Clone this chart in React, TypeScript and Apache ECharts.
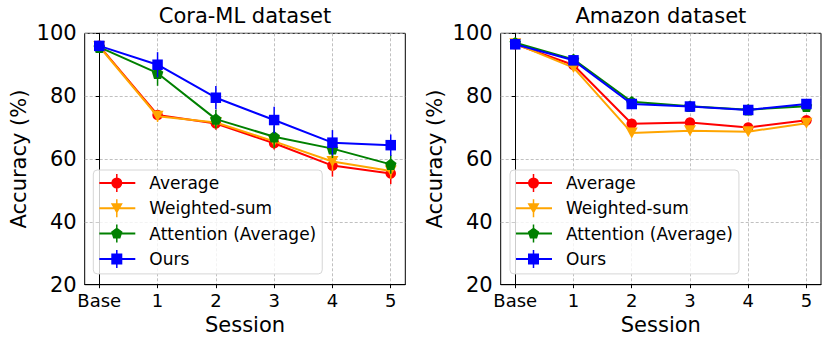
import React, { useEffect, useRef } from "react";
import * as echarts from "echarts";

const categories = ["Base", "1", "2", "3", "4", "5"];
const methodNames = ["Average", "Weighted-sum", "Attention (Average)", "Ours"];
const yTicks = [20, 40, 60, 80, 100];

// Cora-ML dataset
const coraAverage = [96.0, 74.0, 71.3, 65.0, 57.9, 55.4];
const coraAverageErr = [0.8, 1.5, 2.0, 2.0, 3.5, 3.4];
const coraWeighted = [95.8, 73.6, 71.6, 65.6, 59.2, 56.2];
const coraWeightedErr = [0.8, 1.8, 2.0, 2.0, 3.0, 2.5];
const coraAttention = [95.6, 87.3, 72.7, 67.1, 63.3, 58.3];
const coraAttentionErr = [0.8, 4.0, 3.0, 3.5, 3.0, 3.0];
const coraOurs = [96.0, 90.0, 79.5, 72.4, 65.2, 64.4];
const coraOursErr = [0.8, 4.0, 3.7, 4.2, 4.0, 3.4];

// Amazon dataset
const amzAverage = [96.5, 89.9, 71.2, 71.6, 70.0, 72.3];
const amzAverageErr = [0.5, 0.8, 1.0, 1.2, 1.0, 1.0];
const amzWeighted = [96.7, 89.1, 68.3, 69.0, 68.7, 71.4];
const amzWeightedErr = [0.5, 0.8, 0.8, 0.8, 0.8, 0.8];
const amzAttention = [97.0, 91.7, 78.2, 76.8, 75.7, 76.8];
const amzAttentionErr = [0.5, 0.6, 0.8, 0.6, 0.6, 0.6];
const amzOurs = [96.5, 91.4, 77.5, 76.7, 75.6, 77.5];
const amzOursErr = [0.5, 0.6, 0.8, 0.6, 0.6, 0.6];

const colors = ["#ff0000", "#ffa500", "#008000", "#0000ff"];

const LINE = "M0,8 H36 V10 H0 Z ";
const EBAR = "M16.75,0 H18.25 V18 H16.75 Z ";
const SPACER = "M45,9 L45,9.01 ";
const markerPaths = [
  "M23,9 A5.5,5.5 0 1,1 12,9 A5.5,5.5 0 1,1 23,9 Z ",
  "M11.5,4 H23.5 L17.5,14.5 Z ",
  "M17.5,3 L23.21,7.15 L21.03,13.85 L13.97,13.85 L11.79,7.15 Z ",
  "M12,3.5 H23 V14.5 H12 Z ",
];
const legendIcons = markerPaths.map((m) => "path://" + LINE + EBAR + m + SPACER);

const pentagon = "path://M0,-10 L9.51,-3.09 L5.88,8.09 L-5.88,8.09 L-9.51,-3.09 Z";
const symbols = ["circle", "triangle", pentagon, "rect"];
const symbolSizes: any[] = [10.5, [12, 11], 11.5, 10.5];
const symbolRotates = [0, 180, 0, 0];

const FONT = "DejaVu Sans";

export default function App() {
  const ref = useRef<HTMLDivElement>(null);
  useEffect(() => {
    if (!ref.current) return;
    const chart = echarts.init(ref.current, null, { renderer: "svg" });

    const datasets = [
      {
        title: "Cora-ML dataset",
        vals: [coraAverage, coraWeighted, coraAttention, coraOurs],
        errs: [coraAverageErr, coraWeightedErr, coraAttentionErr, coraOursErr],
      },
      {
        title: "Amazon dataset",
        vals: [amzAverage, amzWeighted, amzAttention, amzOurs],
        errs: [amzAverageErr, amzWeightedErr, amzAttentionErr, amzOursErr],
      },
    ];
    const grids = [
      { left: 84.7, top: 33.3, width: 320.6, height: 251.4 },
      { left: 500.7, top: 33.3, width: 320.3, height: 251.4 },
    ];
    const tickIdx = categories.map((_, i) => i);

    const series: any[] = [];
    datasets.forEach((ds, g) => {
      ds.vals.forEach((vals, k) => {
        const errs = ds.errs[k];
        series.push({
          type: "custom",
          name: "err-" + g + "-" + k,
          xAxisIndex: g,
          yAxisIndex: g,
          z: 2 + k * 2,
          silent: true,
          encode: { x: 0, y: [1, 2] },
          data: vals.map((v, i) => [i, v - errs[i], v + errs[i]]),
          renderItem: (params: any, api: any) => {
            const p1 = api.coord([api.value(0), api.value(1)]);
            const p2 = api.coord([api.value(0), api.value(2)]);
            return {
              type: "line",
              shape: { x1: p1[0], y1: p1[1], x2: p2[0], y2: p2[1] },
              style: { stroke: colors[k], lineWidth: 1.5 },
            };
          },
        });
        series.push({
          type: "line",
          name: methodNames[k],
          xAxisIndex: g,
          yAxisIndex: g,
          z: 3 + k * 2,
          data: vals.map((v, i) => [i, v]),
          color: colors[k],
          lineStyle: { width: 2, color: colors[k] },
          itemStyle: { color: colors[k], borderWidth: 0 },
          symbol: symbols[k],
          symbolSize: symbolSizes[k],
          symbolRotate: symbolRotates[k],
          showAllSymbol: true,
          emphasis: { disabled: true },
        });
      });
    });

    const legendData = methodNames.map((n, k) => ({ name: n, icon: legendIcons[k] }));
    const legendBase = {
      orient: "vertical",
      data: legendData,
      itemWidth: 45,
      itemHeight: 20,
      itemGap: 7.3,
      padding: [4, 6, 6, 6],
      backgroundColor: "rgba(255,255,255,0.8)",
      borderColor: "#d6d6d6",
      borderWidth: 1,
      borderRadius: 4,
      itemStyle: { borderWidth: 0 },
      textStyle: { fontSize: 17, color: "#000", fontFamily: FONT },
      selectedMode: false,
    };

    chart.setOption({
      animation: false,
      backgroundColor: "#fff",
      textStyle: { fontFamily: FONT },
      title: datasets.map((ds, g) => ({
        text: ds.title,
        left: grids[g].left + grids[g].width / 2,
        top: 5,
        textAlign: "center",
        padding: 0,
        textStyle: { fontSize: 21, fontWeight: "normal", color: "#000", fontFamily: FONT },
      })),
      legend: [
        { ...legendBase, left: 93.3, top: 170 },
        { ...legendBase, left: 510, top: 170 },
      ],
      grid: grids.map((gr) => ({
        ...gr,
        show: true,
        borderColor: "#000",
        borderWidth: 1,
        backgroundColor: "transparent",
      })),
      xAxis: grids.map((_, g) => ({
        type: "value",
        gridIndex: g,
        min: -0.25,
        max: 5.25,
        name: "Session",
        nameLocation: "middle",
        nameGap: 27,
        nameTextStyle: { fontSize: 21, color: "#000", fontFamily: FONT },
        axisLine: { show: true, onZero: false, lineStyle: { color: "#000", width: 1 } },
        axisTick: { show: true, length: 3.5, customValues: tickIdx, lineStyle: { color: "#000" } },
        axisLabel: {
          customValues: tickIdx,
          fontSize: 18,
          color: "#000",
          margin: 7,
          fontFamily: FONT,
          formatter: (v: number) => categories[Math.round(v)],
        },
        splitLine: { show: true, lineStyle: { color: "#b0b0b0", type: [3, 2], width: 0.8 } },
      })),
      yAxis: grids.map((_, g) => ({
        type: "value",
        gridIndex: g,
        min: yTicks[0],
        max: yTicks[yTicks.length - 1],
        interval: 20,
        name: "Accuracy (%)",
        nameLocation: "middle",
        nameGap: 55,
        nameTextStyle: { fontSize: 21, color: "#000", fontFamily: FONT },
        axisLine: { show: true, lineStyle: { color: "#000", width: 1 } },
        axisTick: { show: true, length: 3.5, lineStyle: { color: "#000" } },
        axisLabel: { fontSize: 21, color: "#000", margin: 8, fontFamily: FONT },
        splitLine: { show: true, lineStyle: { color: "#b0b0b0", type: [3, 2], width: 0.8 } },
      })),
      series,
    });
    return () => chart.dispose();
  }, []);
  return (
    <div
      ref={ref}
      style={{ position: "fixed", left: 0, top: 0, width: 831, height: 347, background: "#fff" }}
    />
  );
}
